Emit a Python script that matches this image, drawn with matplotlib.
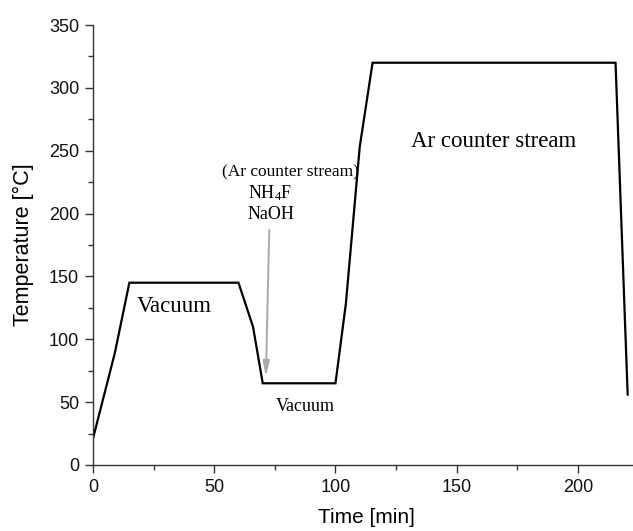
import matplotlib.pyplot as plt
from matplotlib.ticker import MultipleLocator

plt.rcParams['mathtext.fontset'] = 'custom'
plt.rcParams['mathtext.rm'] = 'Liberation Serif'
plt.rcParams['mathtext.it'] = 'Liberation Serif:italic'

# temperature program
time_min = [0, 9, 15, 60, 66, 70, 100, 104.3, 110, 115.3, 215.5, 220.5]
temp_c = [21, 89, 145, 145, 110, 65, 65, 128.5, 253, 320, 320, 56]

SANS = 'Liberation Sans'
SERIF = 'Liberation Serif'

fig = plt.figure(figsize=(6.33, 5.31), dpi=100)
ax = fig.add_axes([0.1469, 0.1243, 0.8531, 0.8286])

ax.plot(time_min, temp_c, color='black', lw=1.6, solid_joinstyle='miter')

ax.set_xlim(0, 222.7)
ax.set_ylim(0, 350)
ax.spines['top'].set_visible(False)
ax.spines['right'].set_visible(False)
for s in ('left', 'bottom'):
    ax.spines[s].set_linewidth(1.0)
    ax.spines[s].set_color('#333333')

ax.xaxis.set_major_locator(MultipleLocator(50))
ax.xaxis.set_minor_locator(MultipleLocator(25))
ax.yaxis.set_major_locator(MultipleLocator(50))
ax.yaxis.set_minor_locator(MultipleLocator(25))
ax.tick_params(which='major', direction='out', length=6, width=1.0, pad=4,
               labelsize=13, color='#333333', labelcolor='#111111')
ax.tick_params(which='minor', direction='out', length=3.5, width=1.0, color='#333333')
for lab in ax.get_xticklabels() + ax.get_yticklabels():
    lab.set_fontfamily(SANS)

ax.set_xlabel('Time [min]', fontsize=15, family=SANS, va='center')
ax.set_ylabel('Temperature [°C]', fontsize=15.5, family=SANS, va='center')
ax.xaxis.set_label_coords(0.506, -0.12)
ax.yaxis.set_label_coords(-0.128, 0.5)

# annotations
ax.text(33.7, 126, 'Vacuum', fontsize=16.5, family=SERIF, ha='center', va='center')
ax.text(87.6, 46.4, 'Vacuum', fontsize=13, family=SERIF, ha='center', va='center')
ax.text(165.1, 257.2, 'Ar counter stream', fontsize=16.5, family=SERIF, ha='center', va='center')
ax.text(81.6, 233, '(Ar counter stream)', fontsize=12.5, family=SERIF, ha='center', va='center')
ax.text(63.9, 216.4, r'NH$_{\mathrm{4}}$F', fontsize=13, family=SERIF, ha='left', va='center')
ax.text(63.9, 198.9, 'NaOH', fontsize=13, family=SERIF, ha='left', va='center')
ax.annotate('', xy=(71.3, 70.2), xytext=(72.7, 187),
            arrowprops=dict(arrowstyle='-|>,head_length=0.9,head_width=0.2',
                            color='#aaaaaa', lw=1.4, shrinkA=0, shrinkB=0))

fig.savefig('out.png', dpi=100)
